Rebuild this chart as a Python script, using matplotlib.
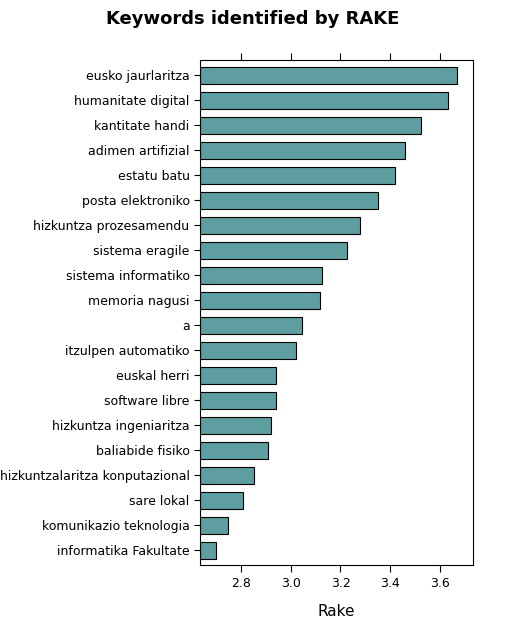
import matplotlib.pyplot as plt

keywords = ["eusko jaurlaritza", "humanitate digital", "kantitate handi", "adimen artifizial",
            "estatu batu", "posta elektroniko", "hizkuntza prozesamendu", "sistema eragile",
            "sistema informatiko", "memoria nagusi", "a", "itzulpen automatiko", "euskal herri",
            "software libre", "hizkuntza ingeniaritza", "baliabide fisiko",
            "hizkuntzalaritza konputazional", "sare lokal", "komunikazio teknologia",
            "informatika Fakultate"]
rake = [3.668, 3.632, 3.524, 3.460, 3.420, 3.352, 3.280, 3.228, 3.124, 3.116,
        3.044, 3.020, 2.940, 2.940, 2.920, 2.908, 2.852, 2.808, 2.748, 2.700]

xmin, xmax = 2.635, 3.733
fig = plt.figure(figsize=(5.05, 6.36), dpi=100)
ax = fig.add_axes([200/505, 1-565/636, 273/505, 505/636])
n = len(keywords)
ypos = list(range(n - 1, -1, -1))
ax.barh(ypos, [v - xmin for v in rake], left=xmin, height=0.68,
        color='#5F9EA0', edgecolor='black', linewidth=0.8)
ax.set_xlim(xmin, xmax)
ax.set_ylim(-0.6, n - 0.4)
ax.set_yticks(ypos)
ax.set_yticklabels(keywords, fontsize=9)
ax.set_xticks([2.8, 3.0, 3.2, 3.4, 3.6])
ax.set_xticklabels(['2.8', '3.0', '3.2', '3.4', '3.6'], fontsize=9)
ax.tick_params(axis='x', top=True, direction='out', length=5)
ax.tick_params(axis='y', direction='out', length=4)
ax.set_xlabel('Rake', fontsize=11, labelpad=10)
fig.suptitle('Keywords identified by RAKE', fontsize=13, fontweight='bold', y=0.985)
fig.savefig('out.png', dpi=100)
